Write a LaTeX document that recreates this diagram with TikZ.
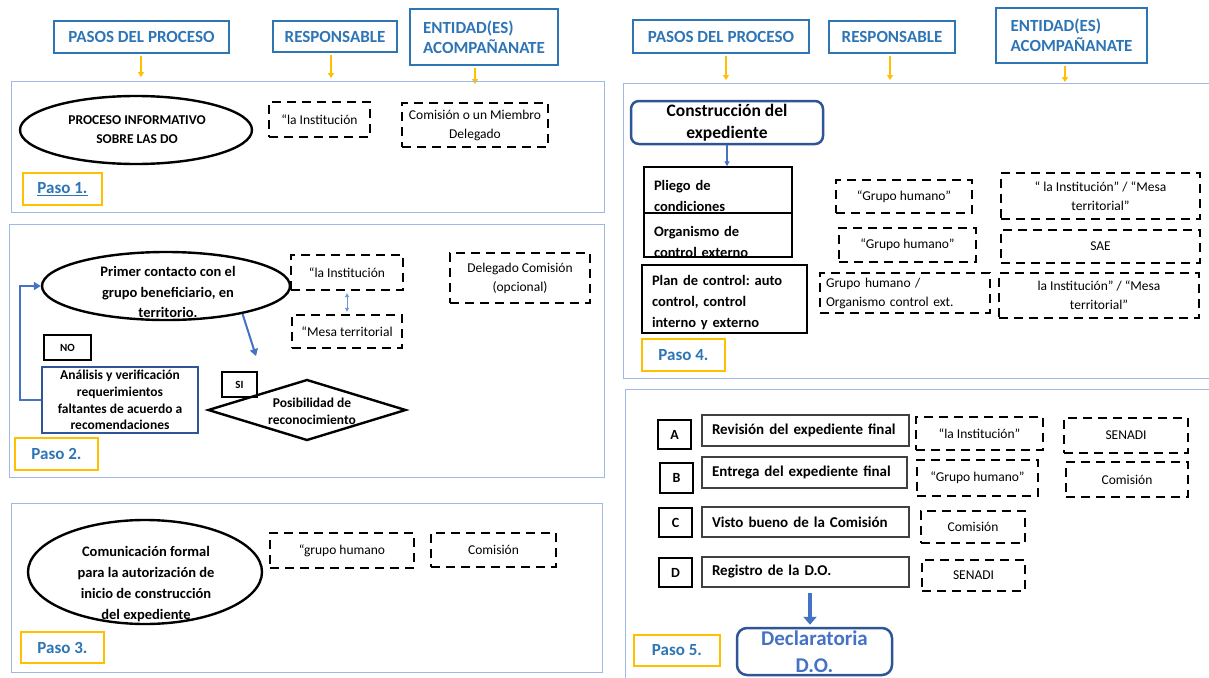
\documentclass[tikz,border=0pt]{standalone}
\usepackage{fontspec}
\setmainfont{Carlito}
\usetikzlibrary{shapes.geometric,arrows.meta}
\frenchspacing

\definecolor{hdrblue}{RGB}{46,117,182}
\definecolor{panelblue}{RGB}{160,185,228}
\definecolor{gold}{RGB}{255,192,0}
\definecolor{darkblue}{RGB}{47,85,151}
\definecolor{midblue}{RGB}{68,114,196}
\definecolor{paleblue}{RGB}{110,150,220}

\tikzset{
  hdr/.style={draw=hdrblue, line width=2pt, text=hdrblue, inner sep=0pt, align=left,
    font=\bfseries\fontsize{17}{20}\selectfont},
  feed/.style={draw=gold, line width=1.6pt, shorten <=2pt, -{Triangle[width=6pt,length=5pt]}},
  panel/.style={draw=panelblue, line width=1pt},
  paso/.style={draw=gold, line width=2.6pt, text=hdrblue, inner sep=0pt,
    font=\bfseries\fontsize{17}{20}\selectfont},
  dbox/.style={draw=black, line width=2.4pt, dash pattern=on 9pt off 6pt, inner sep=0pt,
    align=center, font=\fontsize{13.5}{19}\selectfont},
  oval/.style={ellipse, draw=black, line width=2.4pt, inner sep=0pt},
  ovaltext/.style={inner sep=0pt, align=center, font=\bfseries\fontsize{14.5}{20.5}\selectfont},
  plain/.style={draw=black, line width=1.5pt, inner sep=0pt},
  ltext/.style={inner sep=0pt, align=left, font=\bfseries\fontsize{14.5}{21}\selectfont},
  barrow/.style={draw=midblue, line width=2pt, -{Triangle[width=8pt,length=7pt]}},
  letterbox/.style={draw=black, line width=2.3pt, inner sep=0pt, font=\bfseries\fontsize{14}{16}\selectfont},
  taskbox/.style={draw=black!75, line width=2.2pt, inner sep=0pt, align=left,
    font=\bfseries\fontsize{15}{18}\selectfont},
  smallbox/.style={draw=black, line width=1.5pt, inner sep=0pt, font=\bfseries\fontsize{11}{13}\selectfont},
}

\begin{document}
\begin{tikzpicture}[x=1pt,y=-1pt]
\fill[white] (0,0) rectangle (1209,677);
\useasboundingbox (0,0) rectangle (1209,677);
\clip (0,0) rectangle (1209,677);

% ---------------- left column headers ----------------
\node[hdr, minimum width=175pt, minimum height=32pt] (hL1) at (141.5,37) {PASOS DEL PROCESO};
\node[hdr, minimum width=124pt, minimum height=31pt] (hL2) at (335,36.5) {RESPONSABLE};
\node[hdr, minimum width=148pt, minimum height=56pt] (hL3) at (484,37) {ENTIDAD(ES)\\ACOMPAÑANATE};
\coordinate (fL1) at (141,77);
\coordinate (fL2) at (331,78);
\coordinate (fL3) at (475,84);
\draw[feed] (hL1.south -| fL1) -- (fL1);
\draw[feed] (hL2.south -| fL2) -- (fL2);
\draw[feed] (hL3.south -| fL3) -- (fL3);

% ---------------- Paso 1 ----------------
\draw[panel] (11,81) rectangle (604,212);
\node[oval, minimum width=232pt, minimum height=68pt] (e1) at (136,130) {};
\node[ovaltext, font=\bfseries\fontsize{13.5}{19}\selectfont] (e1t) at (137,130) {PROCESO INFORMATIVO\\SOBRE LAS DO};
\node[dbox, minimum width=101pt, minimum height=35pt] (r1) at (319.5,119.5) {“la Institución};
\node[dbox, minimum width=146pt, minimum height=44pt] (c1) at (475,125) {Comisión o un Miembro\\Delegado};
\node[paso, minimum width=79pt, minimum height=32pt] (p1) at (62.5,189) {\underline{Paso 1.}};

% ---------------- Paso 2 ----------------
\draw[panel] (9,224) rectangle (604,477);
\node[oval, minimum width=248pt, minimum height=68pt] (e2) at (166,286) {};
\node[ovaltext] (e2t) at (168,292) {Primer contacto con el\\grupo beneficiario, en\\territorio.};
\node[dbox, minimum width=112pt, minimum height=35pt] (d3) at (347,272.5) {“la Institución};
\node[dbox, minimum width=110pt, minimum height=33pt] (d4) at (347,331.5) {“Mesa territorial};
\draw[draw=paleblue, line width=1pt, {Triangle[length=4pt,width=4pt]}-{Triangle[length=4pt,width=4pt]}]
  ([yshift=-2pt]d3.south) -- ([yshift=2pt]d4.north);
\node[dbox, minimum width=140pt, minimum height=50pt] (d5) at (520,278) {Delegado Comisión\\(opcional)};
\coordinate (e2end) at (256,356);
\draw[barrow] (e2.-20) -- (e2end);
\node[smallbox, minimum width=47pt, minimum height=25pt] (no) at (67.5,347.5) {NO};
\node[draw=darkblue, line width=2.5pt, inner sep=0pt, align=center, minimum width=156pt, minimum height=66pt,
  font=\bfseries\fontsize{13.5}{16.7}\selectfont] (b1) at (120,400)
  {Análisis y verificación\\requerimientos\\faltantes de acuerdo a\\recomendaciones};
\draw[barrow] (b1.west) -- ++(-21,0) |- (e2.west);
\node[smallbox, minimum width=35pt, minimum height=25pt] (si) at (239.5,384.5) {SI};
\node[diamond, draw=black, line width=2.4pt, inner sep=0pt, minimum width=198pt, minimum height=61pt] (dm) at (307,410) {};
\node[ovaltext, font=\bfseries\fontsize{13.5}{17}\selectfont] (dmt) at (312,411) {Posibilidad de\\reconocimiento};
\node[paso, minimum width=83pt, minimum height=32pt] (p2) at (56.5,454) {Paso 2.};

% ---------------- Paso 3 ----------------
\draw[panel] (11,503) rectangle (602,672);
\node[oval, minimum width=234pt, minimum height=104pt] (e3) at (145,572) {};
\node[ovaltext, font=\bfseries\fontsize{14.5}{20.7}\selectfont] (e3t) at (146,584)
  {Comunicación formal\\para la autorización de\\inicio de construcción\\del expediente};
\node[dbox, minimum width=144pt, minimum height=35pt] (d6) at (342,550.5) {“grupo humano};
\node[dbox, minimum width=125pt, minimum height=34pt] (d7) at (493.5,550) {Comisión};
\node[paso, minimum width=83pt, minimum height=31pt] (p3) at (62.5,647.5) {Paso 3.};

% ---------------- right column headers ----------------
\node[hdr, minimum width=176pt, minimum height=33pt] (hR1) at (721,36.5) {PASOS DEL PROCESO};
\node[hdr, minimum width=126pt, minimum height=32pt] (hR2) at (892,37) {RESPONSABLE};
\node[hdr, minimum width=151pt, minimum height=55pt] (hR3) at (1071.5,35.5) {ENTIDAD(ES)\\ACOMPAÑANATE};
\coordinate (fR1) at (726,80);
\coordinate (fR2) at (890,80);
\coordinate (fR3) at (1065,82);
\draw[feed] (hR1.south -| fR1) -- (fR1);
\draw[feed] (hR2.south -| fR2) -- (fR2);
\draw[feed] (hR3.south -| fR3) -- (fR3);

% ---------------- Paso 4 ----------------
\draw[panel] (623,83) rectangle (1215,378);
\node[draw=darkblue, line width=2.5pt, rounded corners=8pt, inner sep=0pt, align=center,
  minimum width=192pt, minimum height=43pt, font=\bfseries\fontsize{17.5}{21.5}\selectfont]
  (cons) at (727,122.5) {Construcción del\\expediente};
\node[plain, minimum width=148pt, minimum height=46pt] (pli) at (718,190) {};
\node[ltext, text width=128pt] (plit) at (718,195.5) {Pliego de\\condiciones};
\node[plain, minimum width=148pt, minimum height=44pt] (org) at (718,235) {};
\node[ltext, text width=128pt] (orgt) at (718,241.5) {Organismo de\\control externo};
\node[plain, minimum width=165pt, minimum height=68pt] (plan) at (724.5,299) {};
\node[ltext, text width=145pt] (plant) at (724.5,302.5) {Plan de control: auto\\control, control\\interno y externo};
\draw[draw=midblue, line width=1.3pt, -{Triangle[width=5pt,length=5pt]}] (cons.south) -- (cons.south |- pli.north);

\node[dbox, minimum width=136pt, minimum height=33pt] (g1) at (904,196.5) {“Grupo humano”};
\node[dbox, minimum width=137pt, minimum height=34pt] (g2) at (907.5,245) {“Grupo humano”};
\node[dbox, minimum width=170pt, minimum height=40pt, align=left, text width=158pt] (g3) at (905,293) {Grupo humano /\\Organismo control ext.};
\node[dbox, minimum width=199pt, minimum height=46pt] (s1) at (1100.5,196) {“ la Institución” / “Mesa\\territorial”};
\node[dbox, minimum width=199pt, minimum height=33pt] (s2) at (1100.5,246.5) {SAE};
\node[dbox, minimum width=200pt, minimum height=45pt] (s3) at (1099,295.5) {la Institución” / “Mesa\\territorial”};
\node[paso, minimum width=83pt, minimum height=32pt] (p4) at (683.5,355) {Paso 4.};

% ---------------- Paso 5 ----------------
\draw[panel] (625,389) rectangle (1215,685);
\node[letterbox, minimum width=33pt, minimum height=29pt] (la) at (674.5,434.5) {A};
\node[letterbox, minimum width=33pt, minimum height=30pt] (lb) at (676.5,478) {B};
\node[letterbox, minimum width=33pt, minimum height=29pt] (lc) at (675.5,522.5) {C};
\node[letterbox, minimum width=33pt, minimum height=29pt] (ld) at (675.5,572.5) {D};
\node[taskbox, minimum width=207pt, minimum height=31pt, text width=187pt] (ta) at (805.5,430.5) {Revisión del expediente final};
\node[taskbox, minimum width=205pt, minimum height=31pt, text width=185pt] (tb) at (804.5,472.5) {Entrega del expediente final};
\node[taskbox, minimum width=207pt, minimum height=30pt, text width=187pt] (tc) at (805.5,522) {Visto bueno de la Comisión};
\node[taskbox, minimum width=207pt, minimum height=30pt, text width=187pt] (td) at (805.5,572) {Registro de la D.O.};
\node[dbox, minimum width=127pt, minimum height=33pt] (ra) at (979.5,433.5) {“la Institución”};
\node[dbox, minimum width=124pt, minimum height=35pt] (ea) at (1126,435.5) {SENADI};
\node[dbox, minimum width=121pt, minimum height=36pt] (rb) at (977.5,478) {“Grupo humano”};
\node[dbox, minimum width=122pt, minimum height=35pt] (eb) at (1127,479.5) {Comisión};
\node[dbox, minimum width=104pt, minimum height=32pt] (rc) at (973,527) {Comisión};
\node[dbox, minimum width=103pt, minimum height=31pt] (rd) at (973.5,575.5) {SENADI};
\node[draw=darkblue, line width=2.5pt, rounded corners=10pt, inner sep=0pt, align=center,
  minimum width=155pt, minimum height=47pt, text=midblue, font=\bfseries\fontsize{21}{27}\selectfont]
  (dec) at (814.5,651.5) {Declaratoria\\D.O.};
\draw[draw=midblue, line width=4.5pt, -{Triangle[width=13pt,length=8pt]}]
  ([xshift=4.5pt,yshift=-5pt]td.south) -- ([xshift=-4.5pt,yshift=2pt]dec.north);
\node[paso, minimum width=86pt, minimum height=31pt] (p5) at (677,650.5) {Paso 5.};
\end{tikzpicture}
\end{document}
